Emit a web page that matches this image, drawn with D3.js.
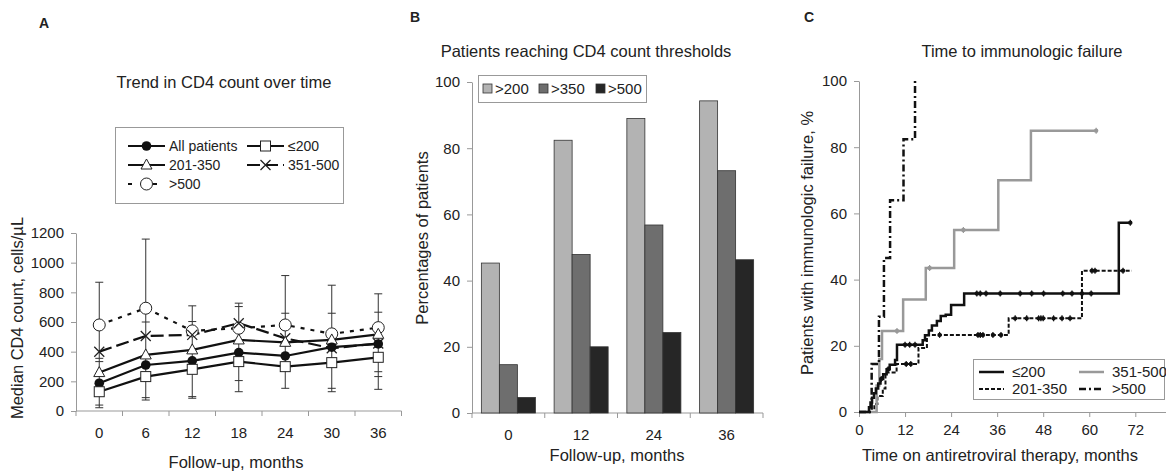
<!DOCTYPE html>
<html>
<head>
<meta charset="utf-8">
<script src="https://cdn.jsdelivr.net/npm/d3@7"></script>
<style>
    body { margin: 0; background: #fff; }
    svg { font-family: Arial, "Liberation Sans", sans-serif; }
    text { fill: #222; }
    .axis path, .axis line { stroke: #999; }
    .axis text { font-size: 15px; fill: #222; }
</style>
</head>
<body>
<svg width="1166" height="473"></svg>
<script>
    // ---- panel A: trend in CD4 count ----
    var monthsA = [0, 6, 12, 18, 24, 30, 36];
    var allPatients = [187, 310, 338, 394, 371, 430, 452];
    var le200 = [130, 232, 281, 333, 299, 326, 362];
    var g201to350 = [259, 378, 412, 479, 463, 479, 517];
    var g351to500 = [400, 506, 513, 592, 490, 423, 455];
    var gt500 = [580, 693, 540, 558, 580, 520, 562];
    var errUpper = [868, 1159, 709, 727, 913, 848, 790];
    var errLower = [22, 74, 86, 130, 153, 130, 146];
    var innerCaps = [[355, 333, 40], [90, 600], [603, 97], [704, 205], [659], [659, 153], [666, 265, 232]];
    var ticksA = [0, 200, 400, 600, 800, 1000, 1200];

    // ---- panel B: patients reaching thresholds ----
    var monthsB = [0, 12, 24, 36];
    var barKeys = [">200", ">350", ">500"];
    var pct200 = [45.3, 82.4, 89.0, 94.3];
    var pct350 = [14.6, 47.9, 56.8, 73.2];
    var pct500 = [4.7, 20.0, 24.3, 46.3];
    var ticksPct = [0, 20, 40, 60, 80, 100];

    // ---- panel C: time to immunologic failure ----
    var ticksC = [0, 12, 24, 36, 48, 60, 72];
    var stepLe200 = [[0, 0], [2.6, 1.4], [3.0, 2.9], [3.4, 4.3], [3.9, 5.7], [4.4, 7.1], [5.0, 8.6], [5.6, 10.0],
        [6.3, 11.4], [7.2, 12.9], [8.0, 14.3], [9.4, 15.7], [9.9, 20.3], [16.6, 21.7], [17.2, 23.2], [18.2, 24.6],
        [19.0, 26.1], [20.3, 27.5], [21.3, 29.0], [22.6, 29.4], [24.0, 32.3], [27.4, 35.8], [67.7, 57.2], [70.7, 57.2]];
    var step201to350 = [[0, 0], [4.0, 2.4], [4.8, 4.8], [6.2, 7.1], [6.9, 11.9], [9.8, 14.5], [15.5, 19.3],
        [17.7, 23.3], [39.0, 28.3], [58.1, 42.7], [71.1, 42.7]];
    var step351to500 = [[0, 0], [4.6, 8], [5.3, 16], [6.0, 24.5], [11.5, 34], [17.4, 43.5], [24.8, 55],
        [36.3, 70], [44.8, 85], [61.8, 85]];
    var stepGt500 = [[0, 0], [3.3, 14.5], [5.2, 28.8], [6.5, 46.5], [8.1, 64], [11.6, 82.4], [14.6, 100]];
    var censLe200 = [5.8, 7.6, 12.0, 13.2, 14.6, 30.7, 31.6, 33.1, 36.8, 42, 45, 48.1, 53.1, 55.5, 58.1, 60.5, 70.7];
    var cens201to350 = [12.3, 13.5, 21, 31, 31.6, 32.3, 34.9, 37, 40.7, 43.7, 46.8, 47.4, 48, 50.7, 52.9, 55, 60.7, 61.5, 68.8];
    var cens351to500 = [9.9, 18.4, 27.2, 61.8];

    var svg = d3.select("svg");

    // ================= panel A =================
    var gA = svg.append("g");
    var xA = d3.scaleBand().domain(monthsA).range([76, 401.5]),
        yA = d3.scaleLinear().domain([0, 1200]).range([411, 233]);

    gA.append("text").attr("x", 39).attr("y", 28).style("font-size", "14px").style("font-weight", "bold").text("A");
    gA.append("text").attr("x", 224).attr("y", 88).attr("text-anchor", "middle").style("font-size", "16.5px")
        .text("Trend in CD4 count over time");

    gA.append("g").attr("class", "axis").attr("transform", "translate(76,0)")
        .call(d3.axisLeft(yA).tickValues(ticksA).tickFormat(d3.format("d")).tickSize(5).tickPadding(7).tickSizeOuter(0));
    var axA = gA.append("g").attr("class", "axis").attr("transform", "translate(0,411)")
        .call(d3.axisBottom(xA).tickSize(0).tickPadding(16));
    axA.select(".domain").attr("d", "M76,0H401.5");
    axA.selectAll(".bound").data(monthsA.concat(["end"])).enter().append("line")
        .attr("x1", function(d) { return d === "end" ? xA.range()[1] : xA(d); })
        .attr("x2", function(d) { return d === "end" ? xA.range()[1] : xA(d); })
        .attr("y1", 0).attr("y2", 5).style("stroke", "#999");

    gA.append("text").attr("x", 236).attr("y", 468).attr("text-anchor", "middle").style("font-size", "16.5px")
        .text("Follow-up, months");
    gA.append("text").attr("transform", "translate(23,318) rotate(-90)").attr("text-anchor", "middle")
        .style("font-size", "16.5px").text("Median CD4 count, cells/µL");

    var cx = function(i) { return xA(monthsA[i]) + xA.bandwidth() / 2; };

    // error bars
    monthsA.forEach(function(m, i) {
        var caps = [errUpper[i], errLower[i]].concat(innerCaps[i]);
        gA.append("line").attr("x1", cx(i)).attr("x2", cx(i))
            .attr("y1", yA(errUpper[i])).attr("y2", yA(errLower[i]))
            .style("stroke", "#333").style("stroke-width", 1);
        caps.forEach(function(c) {
            gA.append("line").attr("x1", cx(i) - 4).attr("x2", cx(i) + 4)
                .attr("y1", yA(c)).attr("y2", yA(c)).style("stroke", "#333").style("stroke-width", 1);
        });
    });

    var seriesA = [
        { name: ">500", values: gt500, dash: "4,6", marker: "circleOpen" },
        { name: "351-500", values: g351to500, dash: "13,5", marker: "cross" },
        { name: "201-350", values: g201to350, dash: null, marker: "triangle" },
        { name: "All patients", values: allPatients, dash: null, marker: "circleFilled" },
        { name: "≤200", values: le200, dash: null, marker: "square" }
    ];

    var lineA = d3.line().x(function(d, i) { return cx(i); }).y(function(d) { return yA(d); });

    function drawMarker(g, type, x, y) {
        if (type === "circleFilled") {
            g.append("circle").attr("cx", x).attr("cy", y).attr("r", 4.8).style("fill", "#111");
        } else if (type === "circleOpen") {
            g.append("circle").attr("cx", x).attr("cy", y).attr("r", 6).style("fill", "#fff").style("stroke", "#222");
        } else if (type === "square") {
            g.append("rect").attr("x", x - 5).attr("y", y - 5).attr("width", 10).attr("height", 10)
                .style("fill", "#fff").style("stroke", "#222");
        } else if (type === "triangle") {
            g.append("path").attr("d", "M" + x + "," + (y - 6) + "L" + (x + 5.5) + "," + (y + 4) + "L" + (x - 5.5) + "," + (y + 4) + "Z")
                .style("fill", "#fff").style("stroke", "#222");
        } else if (type === "cross") {
            g.append("path").attr("d", "M" + (x - 5) + "," + (y - 5) + "L" + (x + 5) + "," + (y + 5) +
                "M" + (x + 5) + "," + (y - 5) + "L" + (x - 5) + "," + (y + 5))
                .style("stroke", "#222").style("stroke-width", 1.3);
        }
    }

    seriesA.forEach(function(s) {
        gA.append("path").datum(s.values).attr("d", lineA)
            .style("fill", "none").style("stroke", "#111").style("stroke-width", 2.2)
            .style("stroke-dasharray", s.dash);
    });
    seriesA.forEach(function(s) {
        s.values.forEach(function(v, i) { drawMarker(gA, s.marker, cx(i), yA(v)); });
    });

    // legend A
    gA.append("rect").attr("x", 115.5).attr("y", 127.5).attr("width", 228).attr("height", 76)
        .style("fill", "#fff").style("stroke", "#999");
    var legA = [
        { s: seriesA[3], x: 128, y: 146 },
        { s: seriesA[4], x: 247, y: 146 },
        { s: seriesA[2], x: 128, y: 165 },
        { s: seriesA[1], x: 247, y: 165 },
        { s: seriesA[0], x: 128, y: 184 }
    ];
    legA.forEach(function(l) {
        gA.append("line").attr("x1", l.x).attr("x2", l.x + 37).attr("y1", l.y).attr("y2", l.y)
            .style("stroke", "#111").style("stroke-width", 2.2)
            .style("stroke-dasharray", l.s.dash ? (l.s.marker === "circleOpen" ? "4,8.5" : "13,5") : null);
        drawMarker(gA, l.s.marker, l.x + 18.5, l.y);
        gA.append("text").attr("x", l.x + 41).attr("y", l.y + 5).style("font-size", "14px").text(l.s.name);
    });

    // ================= panel B =================
    var gB = svg.append("g");
    var xB = d3.scaleBand().domain(monthsB).range([472, 763]),
        x1 = d3.scaleBand().domain(barKeys).range([0, xB.bandwidth()]).paddingOuter(0.52),
        yB = d3.scaleLinear().domain([0, 100]).range([413, 82]);
    var colorB = d3.scaleOrdinal().domain(barKeys).range(["#b3b3b3", "#6e6e6e", "#262626"]);
    var valuesB = { ">200": pct200, ">350": pct350, ">500": pct500 };

    gB.append("text").attr("x", 410).attr("y", 22).style("font-size", "14px").style("font-weight", "bold").text("B");
    gB.append("text").attr("x", 586).attr("y", 57).attr("text-anchor", "middle").style("font-size", "16.5px")
        .text("Patients reaching CD4 count thresholds");

    gB.append("g").attr("class", "axis").attr("transform", "translate(472,0)")
        .call(d3.axisLeft(yB).tickValues(ticksPct).tickSize(5).tickPadding(7).tickSizeOuter(0));
    var axB = gB.append("g").attr("class", "axis").attr("transform", "translate(0,413)")
        .call(d3.axisBottom(xB).tickSize(0).tickPadding(16));
    axB.select(".domain").attr("d", "M472,0H763");
    axB.selectAll(".bound").data(monthsB.concat(["end"])).enter().append("line")
        .attr("x1", function(d) { return d === "end" ? 763 : xB(d); })
        .attr("x2", function(d) { return d === "end" ? 763 : xB(d); })
        .attr("y1", 0).attr("y2", 5).style("stroke", "#999");

    monthsB.forEach(function(m, i) {
        barKeys.forEach(function(k) {
            gB.append("rect")
                .attr("x", xB(m) + x1(k)).attr("width", x1.bandwidth())
                .attr("y", yB(valuesB[k][i])).attr("height", yB(0) - yB(valuesB[k][i]))
                .style("fill", colorB(k)).style("stroke", "#333").style("stroke-width", 0.8);
        });
    });

    gB.append("text").attr("x", 617).attr("y", 461).attr("text-anchor", "middle").style("font-size", "16.5px")
        .text("Follow-up, months");
    gB.append("text").attr("transform", "translate(428,238) rotate(-90)").attr("text-anchor", "middle")
        .style("font-size", "16.5px").text("Percentages of patients");

    gB.append("rect").attr("x", 478.5).attr("y", 75.5).attr("width", 168).attr("height", 27)
        .style("fill", "#fff").style("stroke", "#999");
    [483, 539, 596].forEach(function(lx, j) {
        gB.append("rect").attr("x", lx).attr("y", 84).attr("width", 9).attr("height", 9)
            .style("fill", colorB(barKeys[j])).style("stroke", "#333").style("stroke-width", 0.8);
        gB.append("text").attr("x", lx + 12).attr("y", 94).style("font-size", "15px").text(barKeys[j]);
    });

    // ================= panel C =================
    var gC = svg.append("g");
    var xC = d3.scaleLinear().domain([0, 80]).range([859, 1166]),
        yC = d3.scaleLinear().domain([0, 100]).range([412, 81]);

    gC.append("text").attr("x", 804).attr("y", 22).style("font-size", "14px").style("font-weight", "bold").text("C");
    gC.append("text").attr("x", 1022).attr("y", 57).attr("text-anchor", "middle").style("font-size", "16.5px")
        .text("Time to immunologic failure");

    gC.append("g").attr("class", "axis").attr("transform", "translate(859,0)")
        .call(d3.axisLeft(yC).tickValues(ticksPct).tickSize(5).tickPadding(7).tickSizeOuter(0));
    gC.append("g").attr("class", "axis").attr("transform", "translate(0,412)")
        .call(d3.axisBottom(xC).tickValues(ticksC).tickSize(5).tickPadding(7).tickSizeOuter(0));

    gC.append("text").attr("x", 1000).attr("y", 461).attr("text-anchor", "middle").style("font-size", "16.5px")
        .text("Time on antiretroviral therapy, months");
    gC.append("text").attr("transform", "translate(813,243) rotate(-90)").attr("text-anchor", "middle")
        .style("font-size", "16.5px").text("Patients with immunologic failure, %");

    var stepLine = d3.line().curve(d3.curveStepAfter)
        .x(function(d) { return xC(d[0]); }).y(function(d) { return yC(d[1]); });

    function stepAt(steps, t) {
        var i = d3.bisector(function(d) { return d[0]; }).right(steps, t) - 1;
        return steps[Math.max(0, i)][1];
    }

    var seriesC = [
        { name: "201-350", steps: step201to350, cens: cens201to350, color: "#111", width: 2, dash: "4,2" },
        { name: "351-500", steps: step351to500, cens: cens351to500, color: "#999", width: 2.5, dash: null },
        { name: "≤200", steps: stepLe200, cens: censLe200, color: "#111", width: 2.5, dash: null },
        { name: ">500", steps: stepGt500, cens: [], color: "#111", width: 2.5, dash: "7,3,2,3" }
    ];

    seriesC.forEach(function(s) {
        gC.append("path").datum(s.steps).attr("d", stepLine)
            .style("fill", "none").style("stroke", s.color).style("stroke-width", s.width)
            .style("stroke-dasharray", s.dash);
        s.cens.forEach(function(t) {
            var yy = yC(stepAt(s.steps, t));
            gC.append("circle").attr("cx", xC(t)).attr("cy", yy).attr("r", 2.2).style("fill", s.color);
            gC.append("line").attr("x1", xC(t)).attr("x2", xC(t)).attr("y1", yy - 3).attr("y2", yy + 3)
                .style("stroke", s.color).style("stroke-width", 1.2);
        });
    });

    // legend C
    gC.append("rect").attr("x", 973.5).attr("y", 359.5).attr("width", 191).attr("height", 40)
        .style("fill", "#fff").style("stroke", "#999");
    var legC = [
        { s: seriesC[2], x: 979, y: 372 },
        { s: seriesC[1], x: 1079, y: 372 },
        { s: seriesC[0], x: 979, y: 389 },
        { s: seriesC[3], x: 1079, y: 389 }
    ];
    legC.forEach(function(l) {
        gC.append("line").attr("x1", l.x).attr("x2", l.x + 25).attr("y1", l.y).attr("y2", l.y)
            .style("stroke", l.s.color).style("stroke-width", l.s.width).style("stroke-dasharray", l.s.dash);
        gC.append("text").attr("x", l.x + 33).attr("y", l.y + 5).style("font-size", "15px").text(l.s.name);
    });
</script>
</body>
</html>
